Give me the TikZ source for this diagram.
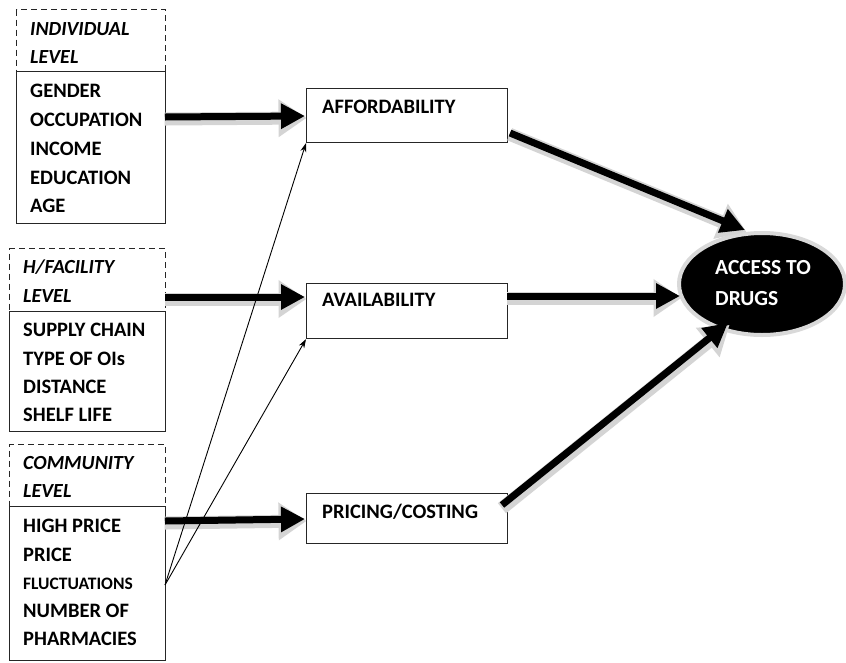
\documentclass[tikz,border=0pt]{standalone}
\usepackage{fontspec}
\setmainfont{Carlito}
\usetikzlibrary{arrows.meta,shapes.geometric}
\tikzset{
  lbl/.style={anchor=base west, inner sep=0pt, font=\bfseries\fontsize{20.5}{24}\selectfont},
  smalllbl/.style={lbl, font=\bfseries\fontsize{17.5}{20}\selectfont},
  hdr/.style={lbl, font=\bfseries\itshape\fontsize{20}{24}\selectfont},
  whitelbl/.style={lbl, text=white, font=\bfseries\fontsize{21.5}{24}\selectfont},
  solidbox/.style={draw=black!85, line width=1.1pt, anchor=north west, inner sep=0pt},
  dashbox/.style={draw=black!85, line width=1.4pt, dash pattern=on 6pt off 4pt, anchor=north west, inner sep=0pt},
  fatshadow/.style={line width=13pt, draw=black!17, -{Triangle[length=28pt,width=36pt]}, shorten <=-2pt},
  fat/.style={line width=7pt, draw=black, -{Triangle[length=24pt,width=24pt]}},
  thinarrow/.style={line width=0.9pt, -{Stealth[length=9pt,width=6pt]}}
}
\begin{document}
\begin{tikzpicture}[x=1pt,y=-1pt]
\useasboundingbox (0,0) rectangle (846,662);

% ---------- left boxes ----------
\node[dashbox, minimum width=149pt, minimum height=62pt] (indhead) at (16,9) {};
\node[solidbox, minimum width=149pt, minimum height=152pt] (indbox) at (16,71) {};
\node[dashbox, minimum width=156pt, minimum height=63pt] (fachead) at (9,248) {};
\node[solidbox, minimum width=156pt, minimum height=120pt] (facbox) at (9,311) {};
\node[dashbox, minimum width=156pt, minimum height=62pt] (comhead) at (9,444) {};
\node[solidbox, minimum width=156pt, minimum height=154pt] (combox) at (9,506) {};

\node[hdr] (t1) at (30,35) {INDIVIDUAL};
\node[hdr] (t2) at (30,63) {LEVEL};
\node[lbl] (t3) at (30,97) {GENDER};
\node[lbl] (t4) at (30,126) {OCCUPATION};
\node[lbl] (t5) at (30,155) {INCOME};
\node[lbl] (t6) at (30,184) {EDUCATION};
\node[lbl] (t7) at (30,212) {AGE};

\node[hdr] (f1) at (23,273) {H/FACILITY};
\node[hdr] (f2) at (23,302) {LEVEL};
\node[lbl] (f3) at (23,336) {SUPPLY CHAIN};
\node[lbl] (f4) at (23,365) {TYPE OF OIs};
\node[lbl] (f5) at (23,393) {DISTANCE};
\node[lbl] (f6) at (23,421) {SHELF LIFE};

\node[hdr] (c1) at (23,469) {COMMUNITY};
\node[hdr] (c2) at (23,497) {LEVEL};
\node[lbl] (c3) at (23,532) {HIGH PRICE};
\node[lbl] (c4) at (23,561) {PRICE};
\node[smalllbl] (c5) at (23,589) {FLUCTUATIONS};
\node[lbl] (c6) at (23,617) {NUMBER OF};
\node[lbl] (c7) at (23,645) {PHARMACIES};

% ---------- middle boxes ----------
\node[solidbox, minimum width=201pt, minimum height=54pt] (afford) at (306,88) {};
\node[solidbox, minimum width=201pt, minimum height=55pt] (avail) at (306,283) {};
\node[solidbox, minimum width=201pt, minimum height=50pt] (price) at (306,493) {};
\node[lbl] (afft) at (322,113) {AFFORDABILITY};
\node[lbl] (avat) at (322,306) {AVAILABILITY};
\node[lbl] (prit) at (322,518) {PRICING/COSTING};

% ---------- ellipse ----------
\node[ellipse, fill=black, draw=black!15, line width=4pt, minimum width=166pt, minimum height=102pt, inner sep=0pt] (access) at (762,284) {};
\node[whitelbl] (acc1) at (715,274) {ACCESS TO};
\node[whitelbl] (acc2) at (715,305) {DRUGS};

% ---------- arrow end points ----------
\coordinate (s1) at (165,117);
\coordinate (e1) at (305,116);
\coordinate (s2) at (165,297);
\coordinate (e2) at (305,297);
\coordinate (s3) at (165,521);
\coordinate (e3) at (305,519);
\coordinate (s4) at (510,133);
\coordinate (e4) at (745,230);
\coordinate (s5) at (507,296);
\coordinate (e5) at (680,296);
\coordinate (s6) at (502,505);
\coordinate (e6) at (728,323);
\coordinate (src) at (165,585);

% ---------- fat arrows ----------
\foreach \a/\b in {s1/e1,s2/e2,s3/e3,s4/e4,s5/e5,s6/e6}{
  \draw[fatshadow] ([shift={(1.5,2)}]\a) -- ([shift={(1.5,2)}]\b);
}
\foreach \a/\b in {s1/e1,s2/e2,s3/e3,s4/e4,s5/e5,s6/e6}{
  \draw[fat] (\a) -- (\b);
}

% ---------- thin arrows ----------
\draw[thinarrow] (src) -- (afford.south west);
\draw[thinarrow] (src) -- (avail.south west);
\end{tikzpicture}
\end{document}
